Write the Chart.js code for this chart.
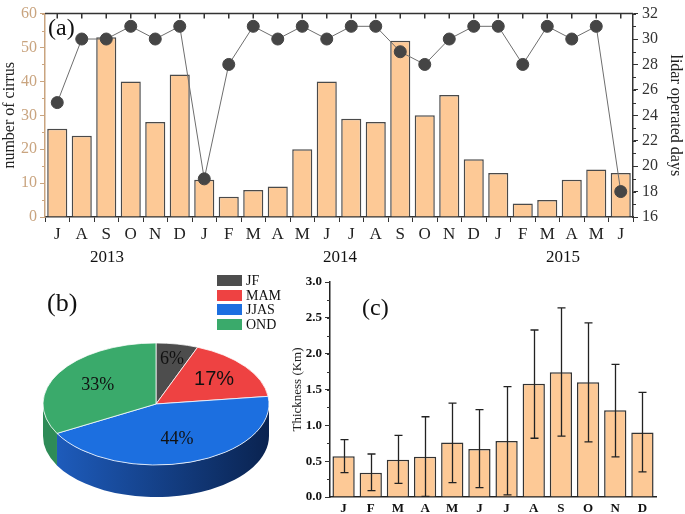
<!DOCTYPE html>
<html>
<head>
<meta charset="utf-8">
<script src="https://cdn.jsdelivr.net/npm/chart.js@4"></script>
<style>
  body { margin: 0; background: #fff; width: 685px; height: 514px; position: relative; overflow: hidden; }
  canvas { position: absolute; }
  .txt { position: absolute; font-family: "Liberation Serif", serif; color: #111; line-height: 1; white-space: nowrap; }
  .key { position: absolute; width: 25px; height: 11px; }
</style>
</head>
<body>
<canvas id="chartA" width="685" height="265" style="left:0;top:0"></canvas>
<canvas id="chartB" width="290" height="254" style="left:0;top:260px"></canvas>
<canvas id="chartC" width="395" height="244" style="left:290px;top:270px"></canvas>

<div class="txt" style="left:48px;top:15px;font-size:24px">(a)</div>
<div class="txt" id="y2013" style="left:90px;top:248px;font-size:17px">2013</div>
<div class="txt" id="y2014" style="left:323px;top:248px;font-size:17px">2014</div>
<div class="txt" id="y2015" style="left:546px;top:248px;font-size:17px">2015</div>
<div class="txt" style="left:47px;top:290px;font-size:26px">(b)</div>
<div class="txt" style="left:362px;top:295px;font-size:24px">(c)</div>
<div id="legendB"></div>

<script>
// (a) monthly counts, Jul 2013 - Jun 2015
const months = ['J','A','S','O','N','D','J','F','M','A','M','J','J','A','S','O','N','D','J','F','M','A','M','J'];
const cirrusCount = [26,24,53,40,28,42,11,6,8,9,20,40,29,28,52,30,36,17,13,4,5,11,14,13];
const lidarDays = [25,30,30,31,30,31,19,28,31,30,31,30,31,31,29,28,30,31,31,28,31,30,31,18];
const years = ['2013','2014','2015'];

// (b) seasonal share
const seasons = ['JF','MAM','JJAS','OND'];
const seasonShare = [6,17,44,33];

// (c) mean thickness with spread
const thickMonths = ['J','F','M','A','M','J','J','A','S','O','N','D'];
const thickness = [0.57,0.34,0.52,0.56,0.76,0.67,0.78,1.58,1.74,1.60,1.21,0.90];
const thickLow  = [0.34,0.09,0.19,0.01,0.20,0.13,0.03,0.82,0.85,0.77,0.56,0.35];
const thickHigh = [0.80,0.60,0.86,1.12,1.31,1.22,1.54,2.33,2.64,2.43,1.85,1.46];

const serif = 'Liberation Serif';
const peach = '#fdc996';
const tan = '#c9a47f';
const seasonColors = ['#4d4d4d','#ee4242','#1c6fe0','#3aaa6b'];

years.forEach(y => { document.getElementById('y' + y).textContent = y; });

const legendB = document.getElementById('legendB');
seasons.forEach((s, i) => {
  const top = 275 + i * 14.5;
  legendB.innerHTML += `<div class="key" style="left:217px;top:${top}px;background:${seasonColors[i]}"></div>` +
    `<div class="txt" style="left:246px;top:${top - 1}px;font-size:14px">${s}</div>`;
});

// small ticks between the labelled ones
const minorTicks = {
  id: 'minorTicks',
  afterDraw(chart, args, opts) {
    const ctx = chart.ctx;
    (opts.axes || []).forEach(a => {
      const sc = chart.scales[a.id];
      ctx.save();
      ctx.strokeStyle = a.color;
      ctx.lineWidth = 1;
      for (let v = sc.min; v <= sc.max + 1e-9; v += a.step) {
        const p = Math.round(sc.getPixelForValue(v)) + 0.5;
        ctx.beginPath();
        if (sc.position === 'left') { ctx.moveTo(sc.right - a.len, p); ctx.lineTo(sc.right, p); }
        else { ctx.moveTo(sc.left, p); ctx.lineTo(sc.left + a.len, p); }
        ctx.stroke();
      }
      ctx.restore();
    });
  }
};

// top border with inward ticks for panel (a)
const topFrame = {
  id: 'topFrame',
  afterDraw(chart) {
    const ctx = chart.ctx, area = chart.chartArea, xs = chart.scales.x;
    ctx.save();
    ctx.strokeStyle = '#333';
    ctx.lineWidth = 1.5;
    ctx.beginPath();
    ctx.moveTo(area.left, area.top);
    ctx.lineTo(area.right, area.top);
    xs.ticks.forEach((t, i) => {
      const x = xs.getPixelForTick(i);
      ctx.moveTo(x, area.top);
      ctx.lineTo(x, area.top + 5);
    });
    ctx.stroke();
    ctx.restore();
  }
};

new Chart(document.getElementById('chartA'), {
  type: 'bar',
  data: {
    labels: months,
    datasets: [
      {
        type: 'line',
        data: lidarDays,
        yAxisID: 'y1',
        borderColor: '#6e6e6e',
        borderWidth: 1,
        pointRadius: 6,
        pointBackgroundColor: '#454545',
        pointBorderColor: '#454545',
        order: 0
      },
      {
        type: 'bar',
        data: cirrusCount,
        yAxisID: 'y',
        backgroundColor: peach,
        borderColor: '#4a4a4a',
        borderWidth: 1.5,
        barPercentage: 0.82,
        categoryPercentage: 1,
        order: 1
      }
    ]
  },
  options: {
    responsive: false,
    animation: false,
    layout: { padding: { top: 6, left: 0, right: 0, bottom: 0 } },
    plugins: {
      legend: { display: false },
      tooltip: { enabled: false },
      minorTicks: { axes: [
        { id: 'y', step: 5, len: 3, color: tan },
        { id: 'y1', step: 1, len: 3, color: '#333' }
      ] }
    },
    scales: {
      x: {
        grid: { drawOnChartArea: false, tickLength: 5, color: '#333' },
        border: { color: '#333', width: 1.5 },
        ticks: { font: { family: serif, size: 17 }, color: '#222', padding: 2, maxRotation: 0, autoSkip: false },
        afterFit: s => { s.height = 48; }
      },
      y: {
        position: 'left',
        min: 0, max: 60,
        ticks: { stepSize: 10, font: { family: serif, size: 16 }, color: tan, padding: 3 },
        grid: { drawOnChartArea: false, tickLength: 5, color: tan },
        border: { color: tan, width: 1.5 },
        title: { display: true, text: 'number of cirrus', font: { family: serif, size: 16 }, color: '#222', padding: 0 },
        afterFit: s => { s.width = 45; }
      },
      y1: {
        position: 'right',
        min: 16, max: 32,
        ticks: { stepSize: 2, font: { family: serif, size: 16 }, color: '#333', padding: 4 },
        grid: { drawOnChartArea: false, tickLength: 5, color: '#333' },
        border: { color: '#333', width: 1.5 },
        title: { display: true, text: 'lidar operated days', font: { family: serif, size: 16 }, color: '#222', padding: 0 },
        afterFit: s => { s.width = 52; }
      }
    }
  },
  plugins: [minorTicks, topFrame]
});

// tilted pie with a drawn side wall
const pie3d = {
  id: 'pie3d',
  beforeDatasetsDraw(chart, args, opts) {
    const ctx = chart.ctx;
    const arcs = chart.getDatasetMeta(0).data;
    const k = opts.tilt, d = opts.depth;
    arcs.forEach((arc, i) => {
      const s = Math.max(arc.startAngle, 0);
      const e = Math.min(arc.endAngle, Math.PI);
      if (e <= s) return;
      const r = arc.outerRadius;
      const grad = ctx.createLinearGradient(arc.x - r, 0, arc.x + r, 0);
      grad.addColorStop(0, opts.sideLeft[i]);
      grad.addColorStop(1, opts.sideRight[i]);
      ctx.beginPath();
      ctx.ellipse(arc.x, arc.y, r, r * k, 0, s, e);
      ctx.ellipse(arc.x, arc.y + d, r, r * k, 0, e, s, true);
      ctx.closePath();
      ctx.fillStyle = grad;
      ctx.fill();
    });
    const c = arcs[0];
    ctx.save();
    ctx.translate(c.x, c.y);
    ctx.scale(1, k);
    ctx.translate(-c.x, -c.y);
  },
  afterDatasetsDraw(chart, args, opts) {
    const ctx = chart.ctx;
    ctx.restore();
    const arcs = chart.getDatasetMeta(0).data;
    const total = seasonShare.reduce((a, b) => a + b, 0);
    ctx.save();
    ctx.textAlign = 'center';
    ctx.textBaseline = 'middle';
    ctx.fillStyle = '#111';
    arcs.forEach((arc, i) => {
      const mid = (arc.startAngle + arc.endAngle) / 2;
      const f = opts.labelPos[i];
      const x = arc.x + f * arc.outerRadius * Math.cos(mid);
      const y = arc.y + f * arc.outerRadius * opts.tilt * Math.sin(mid);
      ctx.font = opts.labelFont[i];
      ctx.fillText(Math.round(seasonShare[i] / total * 100) + '%', x, y);
    });
    ctx.restore();
  }
};

new Chart(document.getElementById('chartB'), {
  type: 'pie',
  data: {
    labels: seasons,
    datasets: [{
      data: seasonShare,
      backgroundColor: seasonColors,
      borderColor: '#ffffff',
      borderWidth: 1,
      radius: 113,
      clip: false
    }]
  },
  options: {
    responsive: false,
    animation: false,
    layout: { padding: { left: 43, right: 21, top: 100, bottom: 66 } },
    plugins: {
      legend: { display: false },
      tooltip: { enabled: false },
      pie3d: {
        tilt: 0.54,
        depth: 32,
        sideLeft: ['#333333','#a02828','#1f5fc2','#2e8b57'],
        sideRight: ['#333333','#a02828','#0a2350','#2e8b57'],
        labelPos: [0.75, 0.65, 0.6, 0.6],
        labelFont: ['18px "Liberation Serif"', '20px "Liberation Sans"', '18px "Liberation Serif"', '18px "Liberation Serif"']
      }
    }
  },
  plugins: [pie3d]
});

// whiskers for panel (c)
const errorBars = {
  id: 'errorBars',
  afterDatasetsDraw(chart, args, opts) {
    const ctx = chart.ctx, ys = chart.scales.y;
    const bars = chart.getDatasetMeta(0).data;
    ctx.save();
    ctx.strokeStyle = '#222';
    ctx.lineWidth = 1.3;
    bars.forEach((bar, i) => {
      const x = Math.round(bar.x) + 0.5;
      const lo = ys.getPixelForValue(opts.low[i]);
      const hi = ys.getPixelForValue(opts.high[i]);
      ctx.beginPath();
      ctx.moveTo(x, lo); ctx.lineTo(x, hi);
      ctx.moveTo(x - 4, lo); ctx.lineTo(x + 4, lo);
      ctx.moveTo(x - 4, hi); ctx.lineTo(x + 4, hi);
      ctx.stroke();
    });
    ctx.restore();
  }
};

new Chart(document.getElementById('chartC'), {
  type: 'bar',
  data: {
    labels: thickMonths,
    datasets: [{
      data: thickness,
      backgroundColor: peach,
      borderColor: '#333',
      borderWidth: 1.5,
      barPercentage: 0.82,
      categoryPercentage: 1
    }]
  },
  options: {
    responsive: false,
    animation: false,
    layout: { padding: { top: 12, right: 29, left: 0, bottom: 0 } },
    plugins: {
      legend: { display: false },
      tooltip: { enabled: false },
      errorBars: { low: thickLow, high: thickHigh },
      minorTicks: { axes: [{ id: 'y', step: 0.25, len: 3, color: '#333' }] }
    },
    scales: {
      x: {
        grid: { drawOnChartArea: false, drawTicks: false },
        border: { color: '#222', width: 1.5 },
        ticks: { font: { family: serif, size: 13, weight: 'bold' }, color: '#111', padding: 4, maxRotation: 0 },
        afterFit: s => { s.height = 17; }
      },
      y: {
        min: 0, max: 3,
        ticks: { stepSize: 0.5, font: { family: serif, size: 13, weight: 'bold' }, color: '#111', padding: 3,
                 callback: v => v.toFixed(1) },
        grid: { drawOnChartArea: false, tickLength: 5, color: '#333' },
        border: { color: '#222', width: 1.5 },
        title: { display: true, text: 'Thickness (Km)', font: { family: serif, size: 13 }, color: '#222', padding: 0 },
        afterFit: s => { s.width = 40; }
      }
    }
  },
  plugins: [errorBars, minorTicks]
});
</script>
</body>
</html>
